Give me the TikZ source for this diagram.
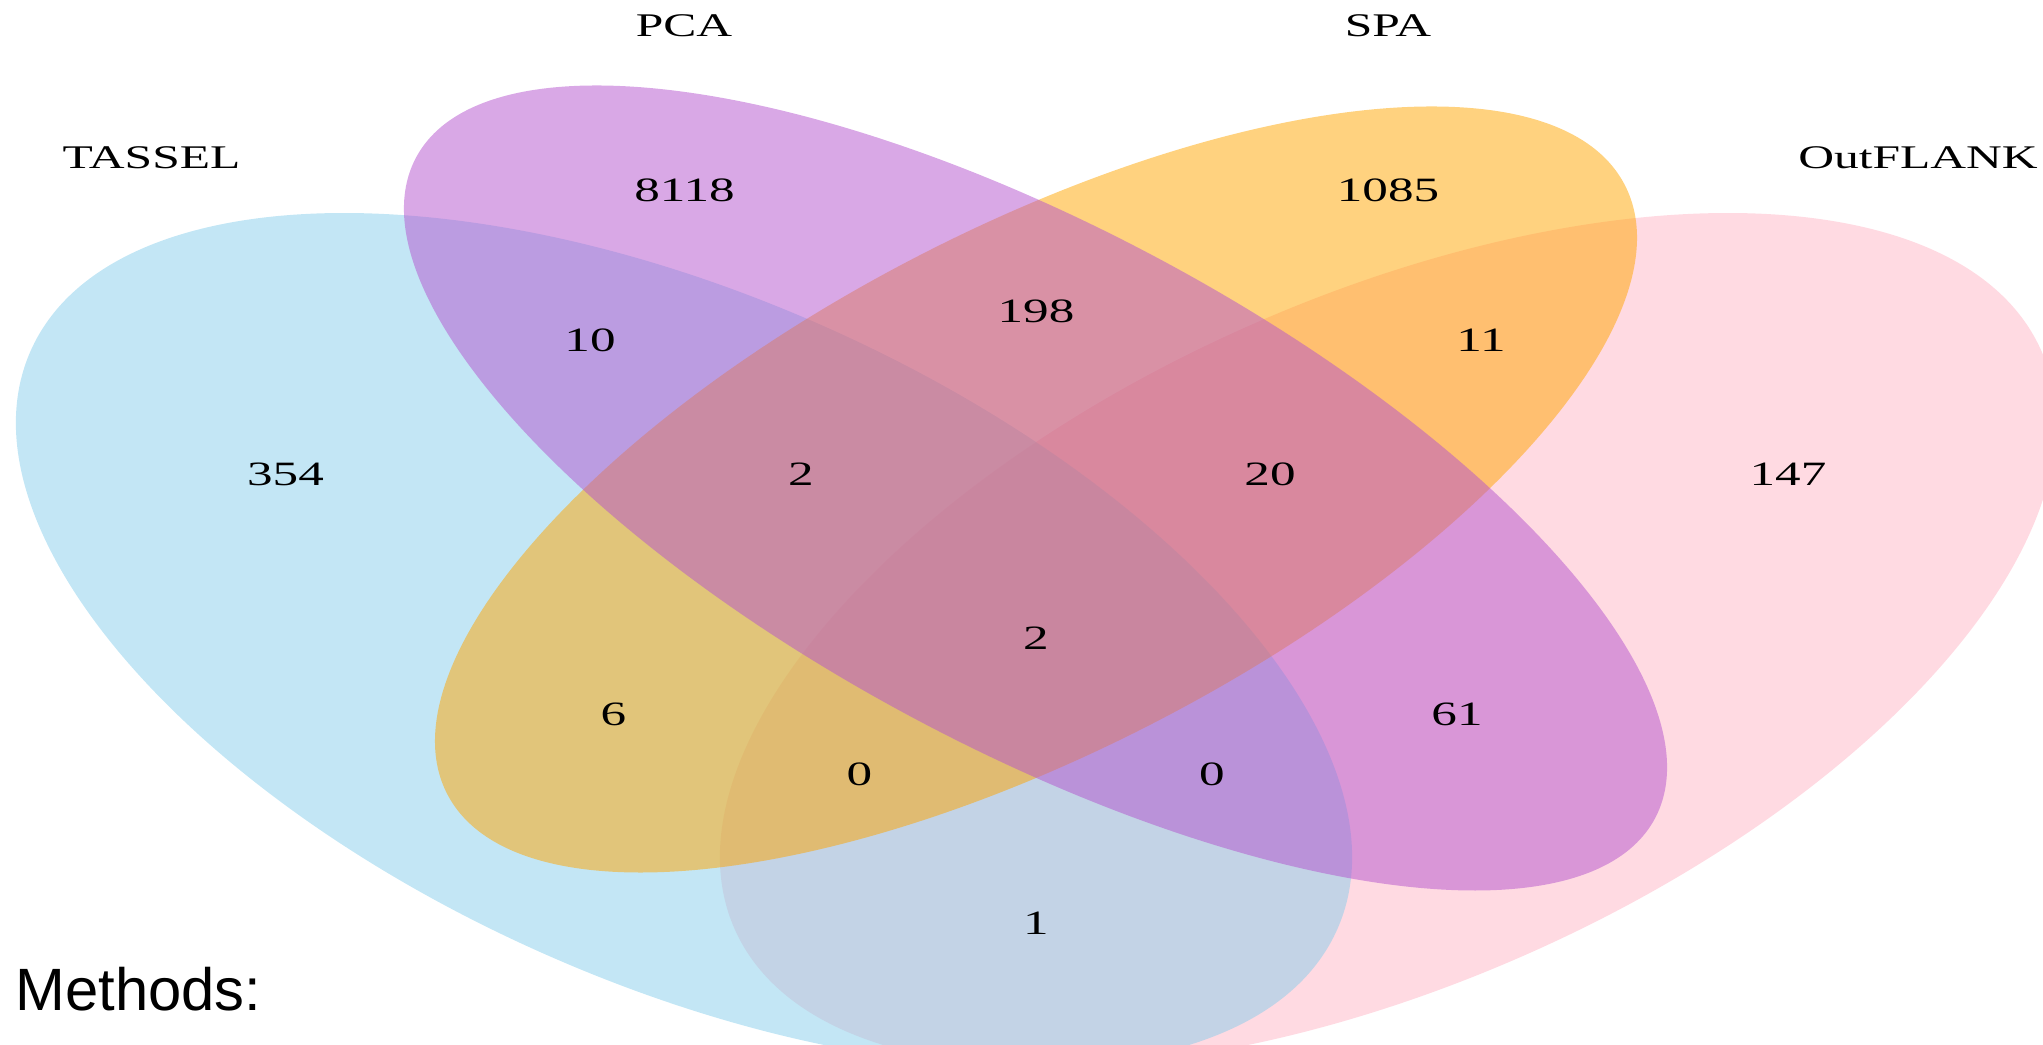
\documentclass[tikz,border=0pt]{standalone}
\usepackage{fontspec}
\setmainfont{Liberation Serif}
\newfontfamily\methodsfont{Liberation Sans}
\usepackage{tikz}

\definecolor{tasselBlue}{RGB}{135,206,235}
\definecolor{pcaPurple}{RGB}{180,82,205}
\definecolor{spaOrange}{RGB}{255,165,0}
\definecolor{outflankPink}{RGB}{255,181,197}

\begin{document}
\begin{tikzpicture}
    \tikzset{SetFill/.style = {fill opacity=0.5}}
    \tikzset{SetLabel/.style = {font=\fontsize{9.4}{11}\selectfont, xscale=1.5, inner sep=0pt}}
    \tikzset{CountLabel/.style = {font=\fontsize{9.7}{11}\selectfont, xscale=1.5, inner sep=0pt}}
    \useasboundingbox (0, 0) rectangle (20.43, 10.45);
    \begin{scope}
        \clip (0, 0) rectangle (20.43, 10.45);
        \fill[SetFill, color=outflankPink, rotate around={23.87:(13.88, 4.05)}] (13.88, 4.05) ellipse (7.145 and 3.436);
        \fill[SetFill, color=tasselBlue, rotate around={-23.87:(6.84, 4.05)}] (6.84, 4.05) ellipse (7.145 and 3.436);
        \fill[SetFill, color=spaOrange, rotate around={27.35:(10.36, 5.555)}] (10.36, 5.555) ellipse (6.629 and 2.615);
        \fill[SetFill, color=pcaPurple, rotate around={-28.08:(10.355, 5.57)}] (10.355, 5.57) ellipse (7.021 and 2.604);
    \end{scope}
    % set names
    \node[SetLabel] (lTassel) at (1.515, 8.875) {TASSEL};
    \node[SetLabel] (lPCA) at (6.84, 10.19) {PCA};
    \node[SetLabel] (lSPA) at (13.88, 10.19) {SPA};
    \node[SetLabel] (lOutflank) at (19.18, 8.875) {OutFLANK};
    % region counts
    \node[CountLabel] (n8118) at (6.845, 8.545) {8118};
    \node[CountLabel] (n1085) at (13.88, 8.545) {1085};
    \node[CountLabel] (n10) at (5.90, 7.05) {10};
    \node[CountLabel] (n198) at (10.36, 7.34) {198};
    \node[CountLabel] (n11) at (14.81, 7.05) {11};
    \node[CountLabel] (n354) at (2.855, 5.71) {354};
    \node[CountLabel] (nTwoL) at (8.01, 5.71) {2};
    \node[CountLabel] (n20) at (12.70, 5.71) {20};
    \node[CountLabel] (n147) at (17.88, 5.71) {147};
    \node[CountLabel] (nTwoC) at (10.36, 4.07) {2};
    \node[CountLabel] (n6) at (6.135, 3.305) {6};
    \node[CountLabel] (n61) at (14.57, 3.305) {61};
    \node[CountLabel] (nZeroL) at (8.595, 2.71) {0};
    \node[CountLabel] (nZeroR) at (12.12, 2.71) {0};
    \node[CountLabel] (n1) at (10.36, 1.215) {1};
    \node[anchor=base west, inner sep=0pt, font=\methodsfont\fontsize{17}{20}\selectfont] (methods) at (0.15, 0.34) {Methods:};
\end{tikzpicture}
\end{document}
